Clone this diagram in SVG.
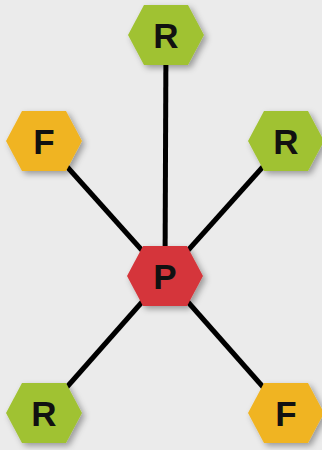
<svg xmlns="http://www.w3.org/2000/svg" width="322" height="450" viewBox="0 0 322 450">
<defs>
<filter id="sh" x="-30%" y="-30%" width="160%" height="160%"><feDropShadow dx="3" dy="3" stdDeviation="3" flood-color="#000" flood-opacity="0.35"/></filter>
<polygon id="hex" points="-38,0 -22,-30 22,-30 38,0 22,30 -22,30"/>
</defs>
<style>
.g{fill:#a0c232}.o{fill:#f0b424}.r{fill:#d5363b}
text{font-family:"Liberation Sans",Arial,sans-serif;font-weight:bold;font-size:35px;fill:#111;text-anchor:middle}
.c line{stroke:#000;stroke-width:5}
</style>
<rect width="322" height="450" fill="#ebebeb"/>
<g class="c">
<line x1="165" y1="276" x2="166" y2="35"/>
<line x1="165" y1="276" x2="44" y2="141"/>
<line x1="165" y1="276" x2="286" y2="141"/>
<line x1="165" y1="276" x2="44" y2="413"/>
<line x1="165" y1="276" x2="286" y2="413"/>
</g>
<g id="n-top" transform="translate(166,35)"><use href="#hex" class="g" filter="url(#sh)"/><text y="12.5">R</text></g>
<g id="n-lf" transform="translate(44,141)"><use href="#hex" class="o" filter="url(#sh)"/><text y="12.5">F</text></g>
<g id="n-rr" transform="translate(286,141)"><use href="#hex" class="g" filter="url(#sh)"/><text y="12.5">R</text></g>
<g id="n-p" transform="translate(165,276)"><use href="#hex" class="r" filter="url(#sh)"/><text y="12.5">P</text></g>
<g id="n-bl" transform="translate(44,413)"><use href="#hex" class="g" filter="url(#sh)"/><text y="12.5">R</text></g>
<g id="n-br" transform="translate(286,413)"><use href="#hex" class="o" filter="url(#sh)"/><text y="12.5">F</text></g>
</svg>
